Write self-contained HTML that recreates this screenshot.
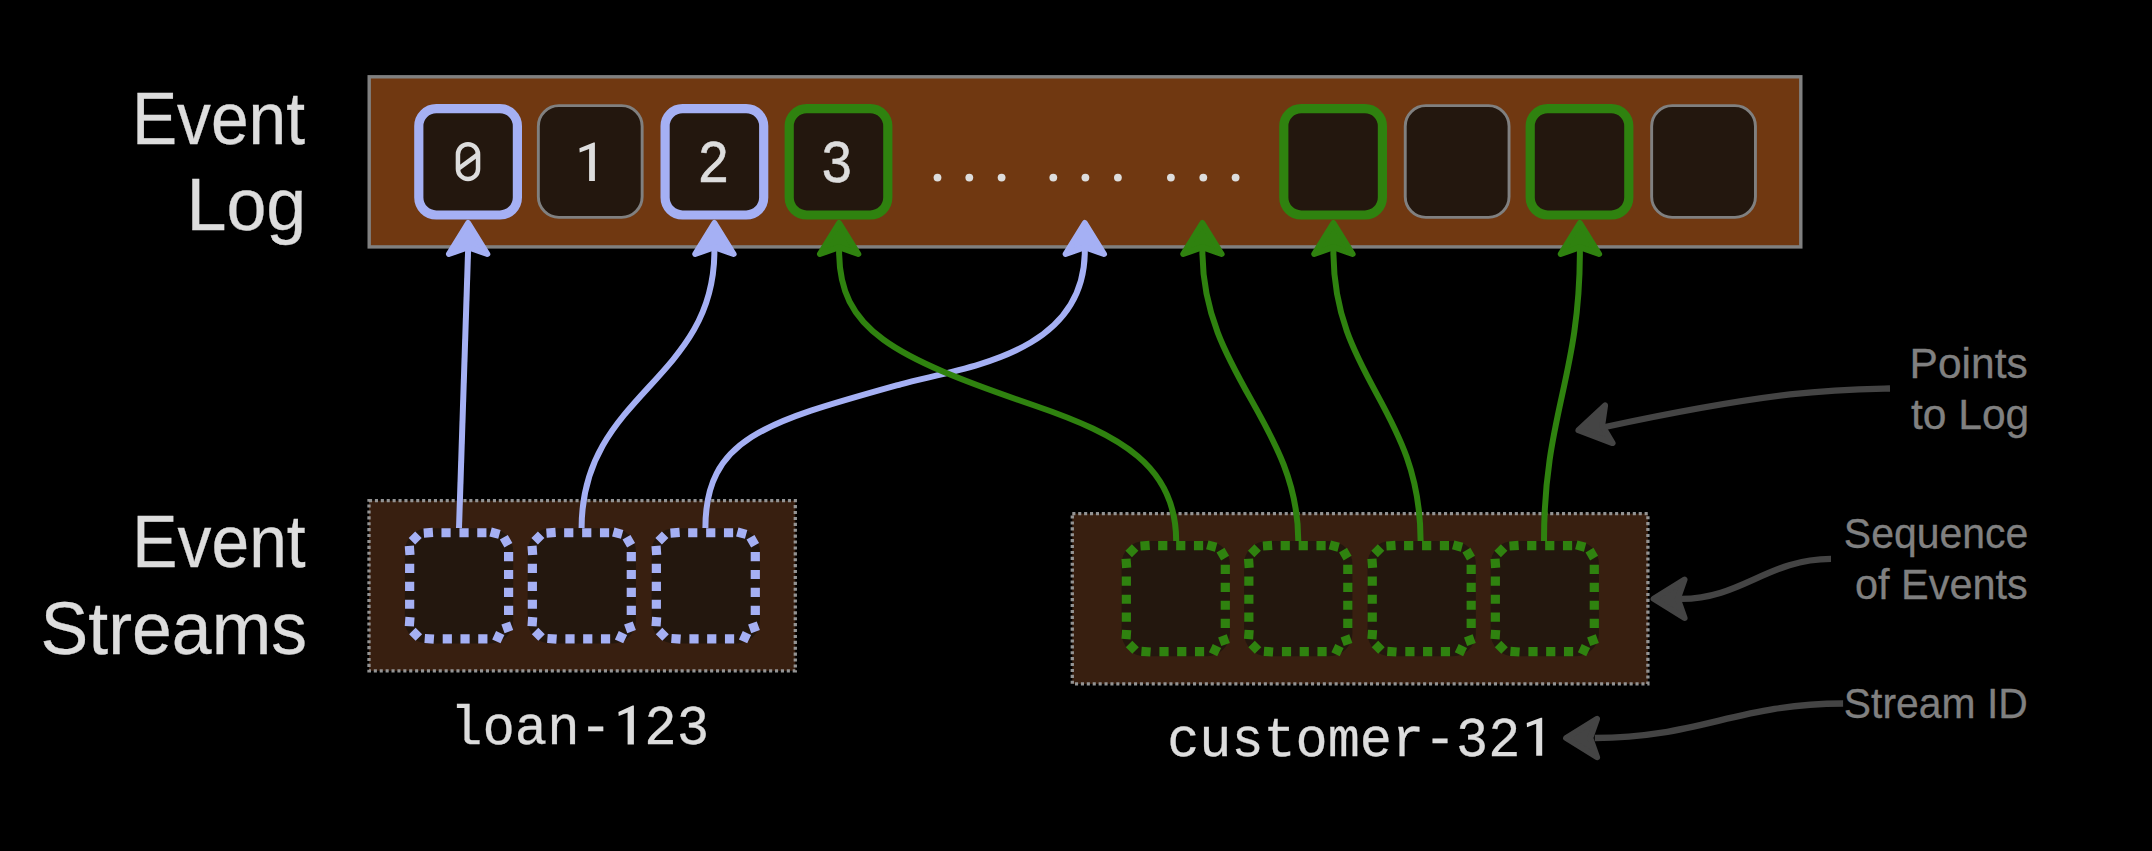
<!DOCTYPE html><html><head><meta charset="utf-8"><style>html,body{margin:0;padding:0;background:#000;width:2152px;height:851px;overflow:hidden}svg{display:block}</style></head><body>
<svg width="2152" height="851" viewBox="0 0 2152 851">
<rect x="0" y="0" width="2152" height="851" fill="#000000"/>
<rect x="369.2" y="76.8" width="1431.6" height="170.1" fill="#703811" stroke="#808080" stroke-width="3.4"/>
<rect x="418.80" y="108.60" width="98.60" height="106.40" rx="17.5" fill="#23170e" stroke="#a5b0f4" stroke-width="9.2"/>
<rect x="538.35" y="105.65" width="103.80" height="111.70" rx="20.5" fill="#23170e" stroke="#808080" stroke-width="2.9"/>
<rect x="665.10" y="108.60" width="98.60" height="106.40" rx="17.5" fill="#23170e" stroke="#a5b0f4" stroke-width="9.2"/>
<rect x="789.20" y="108.60" width="98.60" height="106.40" rx="17.5" fill="#23170e" stroke="#2f820f" stroke-width="9.2"/>
<rect x="1283.80" y="108.60" width="98.60" height="106.40" rx="17.5" fill="#23170e" stroke="#2f820f" stroke-width="9.2"/>
<rect x="1405.25" y="105.65" width="103.80" height="111.70" rx="20.5" fill="#23170e" stroke="#808080" stroke-width="2.9"/>
<rect x="1530.20" y="108.60" width="98.60" height="106.40" rx="17.5" fill="#23170e" stroke="#2f820f" stroke-width="9.2"/>
<rect x="1651.65" y="105.65" width="103.80" height="111.70" rx="20.5" fill="#23170e" stroke="#808080" stroke-width="2.9"/>
<rect x="457.95" y="144.25" width="20.1" height="34.7" rx="10.05" fill="none" stroke="#dddddd" stroke-width="4.5"/>
<line x1="459" y1="168.2" x2="477.6" y2="154.6" stroke="#dddddd" stroke-width="4.5"/>
<polygon points="579.4,148.3 593.6,142.4 594.9,142.4 594.9,181 589.1,181 589.1,149 579.7,152.5" fill="#dddddd"/>
<text transform="translate(713.5,181.5) scale(1,1.115)" x="0" y="0" text-anchor="middle" font-family="Liberation Mono" font-size="54" fill="#dddddd" stroke="#dddddd" stroke-width="0.5">2</text>
<text transform="translate(836.7,181.5) scale(1,1.115)" x="0" y="0" text-anchor="middle" font-family="Liberation Mono" font-size="54" fill="#dddddd" stroke="#dddddd" stroke-width="0.5">3</text>
<circle cx="937.5" cy="177.6" r="3.9" fill="#dddddd"/>
<circle cx="969.3" cy="177.6" r="3.9" fill="#dddddd"/>
<circle cx="1001.6" cy="177.6" r="3.9" fill="#dddddd"/>
<circle cx="1053.3" cy="177.6" r="3.9" fill="#dddddd"/>
<circle cx="1085.4" cy="177.6" r="3.9" fill="#dddddd"/>
<circle cx="1117.9" cy="177.6" r="3.9" fill="#dddddd"/>
<circle cx="1170.9" cy="177.6" r="3.9" fill="#dddddd"/>
<circle cx="1203.3" cy="177.6" r="3.9" fill="#dddddd"/>
<circle cx="1235.6" cy="177.6" r="3.9" fill="#dddddd"/>
<rect x="369.00" y="500.70" width="426.30" height="170.10" fill="#381f10"/>
<rect x="369.00" y="500.70" width="426.30" height="170.10" fill="none" stroke="#939393" stroke-width="3.3" stroke-dasharray="3.1 2.8"/>
<rect x="1072.30" y="513.60" width="575.60" height="170.30" fill="#381f10"/>
<rect x="1072.30" y="513.60" width="575.60" height="170.30" fill="none" stroke="#939393" stroke-width="3.3" stroke-dasharray="3.1 2.8"/>
<rect x="404.90" y="528.20" width="108.3" height="115.2" rx="23" fill="#23170e"/>
<path d="M423.44,528.48 L432.62,527.84 L433.26,537.02 L424.08,537.66ZM441.45,528.15 L450.65,528.15 L450.65,537.35 L441.45,537.35ZM459.45,528.15 L468.65,528.15 L468.65,537.35 L459.45,537.35ZM477.25,528.15 L486.45,528.15 L486.45,537.35 L477.25,537.35ZM491.75,527.57 L500.63,529.95 L498.25,538.83 L489.37,536.45ZM507.78,534.92 L512.38,542.88 L504.42,547.48 L499.82,539.52ZM504.00,551.95 L513.20,551.95 L513.20,561.15 L504.00,561.15ZM504.00,569.90 L513.20,569.90 L513.20,579.10 L504.00,579.10ZM504.00,587.75 L513.20,587.75 L513.20,596.95 L504.00,596.95ZM504.00,605.85 L513.20,605.85 L513.20,615.05 L504.00,615.05ZM510.05,621.40 L513.20,630.05 L504.55,633.20 L501.40,624.55ZM496.08,631.09 L504.41,634.98 L500.52,643.31 L492.19,639.42ZM478.25,634.20 L487.45,634.20 L487.45,643.40 L478.25,643.40ZM460.45,634.20 L469.65,634.20 L469.65,643.40 L460.45,643.40ZM442.70,634.20 L451.90,634.20 L451.90,643.40 L442.70,643.40ZM425.03,633.89 L434.21,634.53 L433.57,643.71 L424.39,643.07ZM405.38,616.79 L414.56,617.43 L413.92,626.61 L404.74,625.97ZM405.05,599.65 L414.25,599.65 L414.25,608.85 L405.05,608.85ZM405.05,581.75 L414.25,581.75 L414.25,590.95 L405.05,590.95ZM405.05,563.70 L414.25,563.70 L414.25,572.90 L405.05,572.90ZM404.74,546.13 L413.92,545.49 L414.56,554.67 L405.38,555.31ZM415.20,531.39 L421.71,537.90 L415.20,544.41 L408.69,537.90ZM415.60,627.79 L422.11,634.30 L415.60,640.81 L409.09,634.30Z" fill="#a5b0f4"/>
<rect x="527.60" y="528.20" width="108.3" height="115.2" rx="23" fill="#23170e"/>
<path d="M546.14,528.48 L555.32,527.84 L555.96,537.02 L546.78,537.66ZM564.15,528.15 L573.35,528.15 L573.35,537.35 L564.15,537.35ZM582.15,528.15 L591.35,528.15 L591.35,537.35 L582.15,537.35ZM599.95,528.15 L609.15,528.15 L609.15,537.35 L599.95,537.35ZM614.45,527.57 L623.33,529.95 L620.95,538.83 L612.07,536.45ZM630.48,534.92 L635.08,542.88 L627.12,547.48 L622.52,539.52ZM626.70,551.95 L635.90,551.95 L635.90,561.15 L626.70,561.15ZM626.70,569.90 L635.90,569.90 L635.90,579.10 L626.70,579.10ZM626.70,587.75 L635.90,587.75 L635.90,596.95 L626.70,596.95ZM626.70,605.85 L635.90,605.85 L635.90,615.05 L626.70,615.05ZM632.75,621.40 L635.90,630.05 L627.25,633.20 L624.10,624.55ZM618.78,631.09 L627.11,634.98 L623.22,643.31 L614.89,639.42ZM600.95,634.20 L610.15,634.20 L610.15,643.40 L600.95,643.40ZM583.15,634.20 L592.35,634.20 L592.35,643.40 L583.15,643.40ZM565.40,634.20 L574.60,634.20 L574.60,643.40 L565.40,643.40ZM547.73,633.89 L556.91,634.53 L556.27,643.71 L547.09,643.07ZM528.08,616.79 L537.26,617.43 L536.62,626.61 L527.44,625.97ZM527.75,599.65 L536.95,599.65 L536.95,608.85 L527.75,608.85ZM527.75,581.75 L536.95,581.75 L536.95,590.95 L527.75,590.95ZM527.75,563.70 L536.95,563.70 L536.95,572.90 L527.75,572.90ZM527.44,546.13 L536.62,545.49 L537.26,554.67 L528.08,555.31ZM537.90,531.39 L544.41,537.90 L537.90,544.41 L531.39,537.90ZM538.30,627.79 L544.81,634.30 L538.30,640.81 L531.79,634.30Z" fill="#a5b0f4"/>
<rect x="651.60" y="528.20" width="108.3" height="115.2" rx="23" fill="#23170e"/>
<path d="M670.14,528.48 L679.32,527.84 L679.96,537.02 L670.78,537.66ZM688.15,528.15 L697.35,528.15 L697.35,537.35 L688.15,537.35ZM706.15,528.15 L715.35,528.15 L715.35,537.35 L706.15,537.35ZM723.95,528.15 L733.15,528.15 L733.15,537.35 L723.95,537.35ZM738.45,527.57 L747.33,529.95 L744.95,538.83 L736.07,536.45ZM754.48,534.92 L759.08,542.88 L751.12,547.48 L746.52,539.52ZM750.70,551.95 L759.90,551.95 L759.90,561.15 L750.70,561.15ZM750.70,569.90 L759.90,569.90 L759.90,579.10 L750.70,579.10ZM750.70,587.75 L759.90,587.75 L759.90,596.95 L750.70,596.95ZM750.70,605.85 L759.90,605.85 L759.90,615.05 L750.70,615.05ZM756.75,621.40 L759.90,630.05 L751.25,633.20 L748.10,624.55ZM742.78,631.09 L751.11,634.98 L747.22,643.31 L738.89,639.42ZM724.95,634.20 L734.15,634.20 L734.15,643.40 L724.95,643.40ZM707.15,634.20 L716.35,634.20 L716.35,643.40 L707.15,643.40ZM689.40,634.20 L698.60,634.20 L698.60,643.40 L689.40,643.40ZM671.73,633.89 L680.91,634.53 L680.27,643.71 L671.09,643.07ZM652.08,616.79 L661.26,617.43 L660.62,626.61 L651.44,625.97ZM651.75,599.65 L660.95,599.65 L660.95,608.85 L651.75,608.85ZM651.75,581.75 L660.95,581.75 L660.95,590.95 L651.75,590.95ZM651.75,563.70 L660.95,563.70 L660.95,572.90 L651.75,572.90ZM651.44,546.13 L660.62,545.49 L661.26,554.67 L652.08,555.31ZM661.90,531.39 L668.41,537.90 L661.90,544.41 L655.39,537.90ZM662.30,627.79 L668.81,634.30 L662.30,640.81 L655.79,634.30Z" fill="#a5b0f4"/>
<rect x="1121.60" y="541.10" width="108.3" height="115.2" rx="23" fill="#23170e"/>
<path d="M1140.14,541.38 L1149.32,540.74 L1149.96,549.92 L1140.78,550.56ZM1158.15,541.05 L1167.35,541.05 L1167.35,550.25 L1158.15,550.25ZM1176.15,541.05 L1185.35,541.05 L1185.35,550.25 L1176.15,550.25ZM1193.95,541.05 L1203.15,541.05 L1203.15,550.25 L1193.95,550.25ZM1208.45,540.47 L1217.33,542.85 L1214.95,551.73 L1206.07,549.35ZM1224.48,547.82 L1229.08,555.78 L1221.12,560.38 L1216.52,552.42ZM1220.70,564.85 L1229.90,564.85 L1229.90,574.05 L1220.70,574.05ZM1220.70,582.80 L1229.90,582.80 L1229.90,592.00 L1220.70,592.00ZM1220.70,600.65 L1229.90,600.65 L1229.90,609.85 L1220.70,609.85ZM1220.70,618.75 L1229.90,618.75 L1229.90,627.95 L1220.70,627.95ZM1226.75,634.30 L1229.90,642.95 L1221.25,646.10 L1218.10,637.45ZM1212.78,643.99 L1221.11,647.88 L1217.22,656.21 L1208.89,652.32ZM1194.95,647.10 L1204.15,647.10 L1204.15,656.30 L1194.95,656.30ZM1177.15,647.10 L1186.35,647.10 L1186.35,656.30 L1177.15,656.30ZM1159.40,647.10 L1168.60,647.10 L1168.60,656.30 L1159.40,656.30ZM1141.73,646.79 L1150.91,647.43 L1150.27,656.61 L1141.09,655.97ZM1122.08,629.69 L1131.26,630.33 L1130.62,639.51 L1121.44,638.87ZM1121.75,612.55 L1130.95,612.55 L1130.95,621.75 L1121.75,621.75ZM1121.75,594.65 L1130.95,594.65 L1130.95,603.85 L1121.75,603.85ZM1121.75,576.60 L1130.95,576.60 L1130.95,585.80 L1121.75,585.80ZM1121.44,559.03 L1130.62,558.39 L1131.26,567.57 L1122.08,568.21ZM1131.90,544.29 L1138.41,550.80 L1131.90,557.31 L1125.39,550.80ZM1132.30,640.69 L1138.81,647.20 L1132.30,653.71 L1125.79,647.20Z" fill="#2f820f"/>
<rect x="1244.10" y="541.10" width="108.3" height="115.2" rx="23" fill="#23170e"/>
<path d="M1262.64,541.38 L1271.82,540.74 L1272.46,549.92 L1263.28,550.56ZM1280.65,541.05 L1289.85,541.05 L1289.85,550.25 L1280.65,550.25ZM1298.65,541.05 L1307.85,541.05 L1307.85,550.25 L1298.65,550.25ZM1316.45,541.05 L1325.65,541.05 L1325.65,550.25 L1316.45,550.25ZM1330.95,540.47 L1339.83,542.85 L1337.45,551.73 L1328.57,549.35ZM1346.98,547.82 L1351.58,555.78 L1343.62,560.38 L1339.02,552.42ZM1343.20,564.85 L1352.40,564.85 L1352.40,574.05 L1343.20,574.05ZM1343.20,582.80 L1352.40,582.80 L1352.40,592.00 L1343.20,592.00ZM1343.20,600.65 L1352.40,600.65 L1352.40,609.85 L1343.20,609.85ZM1343.20,618.75 L1352.40,618.75 L1352.40,627.95 L1343.20,627.95ZM1349.25,634.30 L1352.40,642.95 L1343.75,646.10 L1340.60,637.45ZM1335.28,643.99 L1343.61,647.88 L1339.72,656.21 L1331.39,652.32ZM1317.45,647.10 L1326.65,647.10 L1326.65,656.30 L1317.45,656.30ZM1299.65,647.10 L1308.85,647.10 L1308.85,656.30 L1299.65,656.30ZM1281.90,647.10 L1291.10,647.10 L1291.10,656.30 L1281.90,656.30ZM1264.23,646.79 L1273.41,647.43 L1272.77,656.61 L1263.59,655.97ZM1244.58,629.69 L1253.76,630.33 L1253.12,639.51 L1243.94,638.87ZM1244.25,612.55 L1253.45,612.55 L1253.45,621.75 L1244.25,621.75ZM1244.25,594.65 L1253.45,594.65 L1253.45,603.85 L1244.25,603.85ZM1244.25,576.60 L1253.45,576.60 L1253.45,585.80 L1244.25,585.80ZM1243.94,559.03 L1253.12,558.39 L1253.76,567.57 L1244.58,568.21ZM1254.40,544.29 L1260.91,550.80 L1254.40,557.31 L1247.89,550.80ZM1254.80,640.69 L1261.31,647.20 L1254.80,653.71 L1248.29,647.20Z" fill="#2f820f"/>
<rect x="1367.50" y="541.10" width="108.3" height="115.2" rx="23" fill="#23170e"/>
<path d="M1386.04,541.38 L1395.22,540.74 L1395.86,549.92 L1386.68,550.56ZM1404.05,541.05 L1413.25,541.05 L1413.25,550.25 L1404.05,550.25ZM1422.05,541.05 L1431.25,541.05 L1431.25,550.25 L1422.05,550.25ZM1439.85,541.05 L1449.05,541.05 L1449.05,550.25 L1439.85,550.25ZM1454.35,540.47 L1463.23,542.85 L1460.85,551.73 L1451.97,549.35ZM1470.38,547.82 L1474.98,555.78 L1467.02,560.38 L1462.42,552.42ZM1466.60,564.85 L1475.80,564.85 L1475.80,574.05 L1466.60,574.05ZM1466.60,582.80 L1475.80,582.80 L1475.80,592.00 L1466.60,592.00ZM1466.60,600.65 L1475.80,600.65 L1475.80,609.85 L1466.60,609.85ZM1466.60,618.75 L1475.80,618.75 L1475.80,627.95 L1466.60,627.95ZM1472.65,634.30 L1475.80,642.95 L1467.15,646.10 L1464.00,637.45ZM1458.68,643.99 L1467.01,647.88 L1463.12,656.21 L1454.79,652.32ZM1440.85,647.10 L1450.05,647.10 L1450.05,656.30 L1440.85,656.30ZM1423.05,647.10 L1432.25,647.10 L1432.25,656.30 L1423.05,656.30ZM1405.30,647.10 L1414.50,647.10 L1414.50,656.30 L1405.30,656.30ZM1387.63,646.79 L1396.81,647.43 L1396.17,656.61 L1386.99,655.97ZM1367.98,629.69 L1377.16,630.33 L1376.52,639.51 L1367.34,638.87ZM1367.65,612.55 L1376.85,612.55 L1376.85,621.75 L1367.65,621.75ZM1367.65,594.65 L1376.85,594.65 L1376.85,603.85 L1367.65,603.85ZM1367.65,576.60 L1376.85,576.60 L1376.85,585.80 L1367.65,585.80ZM1367.34,559.03 L1376.52,558.39 L1377.16,567.57 L1367.98,568.21ZM1377.80,544.29 L1384.31,550.80 L1377.80,557.31 L1371.29,550.80ZM1378.20,640.69 L1384.71,647.20 L1378.20,653.71 L1371.69,647.20Z" fill="#2f820f"/>
<rect x="1490.60" y="541.10" width="108.3" height="115.2" rx="23" fill="#23170e"/>
<path d="M1509.14,541.38 L1518.32,540.74 L1518.96,549.92 L1509.78,550.56ZM1527.15,541.05 L1536.35,541.05 L1536.35,550.25 L1527.15,550.25ZM1545.15,541.05 L1554.35,541.05 L1554.35,550.25 L1545.15,550.25ZM1562.95,541.05 L1572.15,541.05 L1572.15,550.25 L1562.95,550.25ZM1577.45,540.47 L1586.33,542.85 L1583.95,551.73 L1575.07,549.35ZM1593.48,547.82 L1598.08,555.78 L1590.12,560.38 L1585.52,552.42ZM1589.70,564.85 L1598.90,564.85 L1598.90,574.05 L1589.70,574.05ZM1589.70,582.80 L1598.90,582.80 L1598.90,592.00 L1589.70,592.00ZM1589.70,600.65 L1598.90,600.65 L1598.90,609.85 L1589.70,609.85ZM1589.70,618.75 L1598.90,618.75 L1598.90,627.95 L1589.70,627.95ZM1595.75,634.30 L1598.90,642.95 L1590.25,646.10 L1587.10,637.45ZM1581.78,643.99 L1590.11,647.88 L1586.22,656.21 L1577.89,652.32ZM1563.95,647.10 L1573.15,647.10 L1573.15,656.30 L1563.95,656.30ZM1546.15,647.10 L1555.35,647.10 L1555.35,656.30 L1546.15,656.30ZM1528.40,647.10 L1537.60,647.10 L1537.60,656.30 L1528.40,656.30ZM1510.73,646.79 L1519.91,647.43 L1519.27,656.61 L1510.09,655.97ZM1491.08,629.69 L1500.26,630.33 L1499.62,639.51 L1490.44,638.87ZM1490.75,612.55 L1499.95,612.55 L1499.95,621.75 L1490.75,621.75ZM1490.75,594.65 L1499.95,594.65 L1499.95,603.85 L1490.75,603.85ZM1490.75,576.60 L1499.95,576.60 L1499.95,585.80 L1490.75,585.80ZM1490.44,559.03 L1499.62,558.39 L1500.26,567.57 L1491.08,568.21ZM1500.90,544.29 L1507.41,550.80 L1500.90,557.31 L1494.39,550.80ZM1501.30,640.69 L1507.81,647.20 L1501.30,653.71 L1494.79,647.20Z" fill="#2f820f"/>
<path d="M459,528 L468.5,238" fill="none" stroke="#a5b0f4" stroke-width="6"/>
<polygon points="468.10,223.00 487.30,254.00 468.10,247.20 448.90,254.00" fill="#a5b0f4" stroke="#a5b0f4" stroke-width="6" stroke-linejoin="round"/>
<path d="M581.60,528.00 C581.60,393.50 714.40,381.37 714.40,251.00 L714.40,238" fill="none" stroke="#a5b0f4" stroke-width="6"/>
<polygon points="714.40,223.00 733.60,254.00 714.40,247.20 695.20,254.00" fill="#a5b0f4" stroke="#a5b0f4" stroke-width="6" stroke-linejoin="round"/>
<path d="M705.40,528.00 C705.40,437.92 765.72,421.97 900.59,384.28 C959.56,367.80 1084.80,356.17 1084.80,251.00 L1084.80,238" fill="none" stroke="#a5b0f4" stroke-width="6"/>
<polygon points="1084.80,223.00 1104.00,254.00 1084.80,247.20 1065.60,254.00" fill="#a5b0f4" stroke="#a5b0f4" stroke-width="6" stroke-linejoin="round"/>
<path d="M1176.20,541.00 C1176.20,466.18 1121.08,435.17 1033.69,405.24 C891.88,356.65 839.10,329.94 839.10,251.00 L839.10,238" fill="none" stroke="#2f820f" stroke-width="6"/>
<polygon points="839.10,223.00 858.30,254.00 839.10,247.20 819.90,254.00" fill="#2f820f" stroke="#2f820f" stroke-width="6" stroke-linejoin="round"/>
<path d="M1298.30,541.00 C1298.30,424.39 1202.40,373.66 1202.40,251.00 L1202.40,238" fill="none" stroke="#2f820f" stroke-width="6"/>
<polygon points="1202.40,223.00 1221.60,254.00 1202.40,247.20 1183.20,254.00" fill="#2f820f" stroke="#2f820f" stroke-width="6" stroke-linejoin="round"/>
<path d="M1420.60,541.00 C1420.60,408.90 1333.40,378.72 1333.40,251.00 L1333.40,238" fill="none" stroke="#2f820f" stroke-width="6"/>
<polygon points="1333.40,223.00 1352.60,254.00 1333.40,247.20 1314.20,254.00" fill="#2f820f" stroke="#2f820f" stroke-width="6" stroke-linejoin="round"/>
<path d="M1544.00,541.00 C1544.00,414.39 1579.90,377.56 1579.90,251.00 L1579.90,238" fill="none" stroke="#2f820f" stroke-width="6"/>
<polygon points="1579.90,223.00 1599.10,254.00 1579.90,247.20 1560.70,254.00" fill="#2f820f" stroke="#2f820f" stroke-width="6" stroke-linejoin="round"/>
<path d="M1890.00,388.50 C1839.80,389.45 1781.93,389.11 1605.00,427.00" fill="none" stroke="#444444" stroke-width="6.3"/>
<polygon points="1578.43,430.30 1605.09,405.42 1602.17,425.58 1612.58,443.08" fill="#444444" stroke="#444444" stroke-width="6" stroke-linejoin="round"/>
<path d="M1831.00,558.80 C1768.15,558.80 1741.78,598.90 1681.00,598.90" fill="none" stroke="#444444" stroke-width="6.3"/>
<polygon points="1653.60,598.80 1684.60,579.60 1677.80,598.80 1684.60,618.00" fill="#444444" stroke="#444444" stroke-width="6" stroke-linejoin="round"/>
<path d="M1843.10,703.50 C1738.90,703.50 1697.79,738.00 1594.80,738.00" fill="none" stroke="#444444" stroke-width="6.3"/>
<polygon points="1566.10,738.00 1597.10,718.80 1590.30,738.00 1597.10,757.20" fill="#444444" stroke="#444444" stroke-width="6" stroke-linejoin="round"/>
<text transform="translate(131.96,143.6) scale(0.9404,1.018)" x="0" y="0" font-family="Liberation Sans" font-size="72" fill="#dddddd" stroke="#dddddd" stroke-width="0.3">Event</text>
<text transform="translate(186.41,230) scale(0.9982,1.018)" x="0" y="0" font-family="Liberation Sans" font-size="72" fill="#dddddd" stroke="#dddddd" stroke-width="0.3">Log</text>
<text transform="translate(132.35,567) scale(0.9416,1.018)" x="0" y="0" font-family="Liberation Sans" font-size="72" fill="#dddddd" stroke="#dddddd" stroke-width="0.3">Event</text>
<text transform="translate(40.62,654) scale(0.9939,1.018)" x="0" y="0" font-family="Liberation Sans" font-size="72" fill="#dddddd" stroke="#dddddd" stroke-width="0.3">Streams</text>
<text transform="translate(1909.56,377.9) scale(1.0124,1.03)" x="0" y="0" font-family="Liberation Sans" font-size="42" fill="#808080" stroke="#808080" stroke-width="0.3">Points</text>
<text transform="translate(1910.90,428.7) scale(1.0140,1.03)" x="0" y="0" font-family="Liberation Sans" font-size="42" fill="#808080" stroke="#808080" stroke-width="0.3">to Log</text>
<text transform="translate(1843.85,547.7) scale(0.9753,1.03)" x="0" y="0" font-family="Liberation Sans" font-size="42" fill="#808080" stroke="#808080" stroke-width="0.3">Sequence</text>
<text transform="translate(1855.03,598.7) scale(0.9872,1.03)" x="0" y="0" font-family="Liberation Sans" font-size="42" fill="#808080" stroke="#808080" stroke-width="0.3">of Events</text>
<text transform="translate(1843.85,717.5) scale(0.9730,1.03)" x="0" y="0" font-family="Liberation Sans" font-size="42" fill="#808080" stroke="#808080" stroke-width="0.3">Stream ID</text>
<text transform="translate(450,744.1) scale(1,1.03)" x="0" y="0" font-family="Liberation Mono" font-size="54" fill="#dddddd" stroke="#dddddd" stroke-width="0.3">loan- 23</text>
<text transform="translate(1167.23,755.9) scale(1,1.03)" x="0" y="0" font-family="Liberation Mono" font-size="53.5" fill="#dddddd" stroke="#dddddd" stroke-width="0.3">customer-32 </text>
<polygon points="618.40,711.90 632.60,705.60 633.90,705.60 633.90,744.60 627.60,744.60 627.60,712.60 618.70,716.10" fill="#dddddd"/>
<polygon points="1526.70,723.10 1540.90,717.80 1542.20,717.80 1542.20,755.80 1536.20,755.80 1536.20,723.80 1527.00,727.30" fill="#dddddd"/>
</svg></body></html>
